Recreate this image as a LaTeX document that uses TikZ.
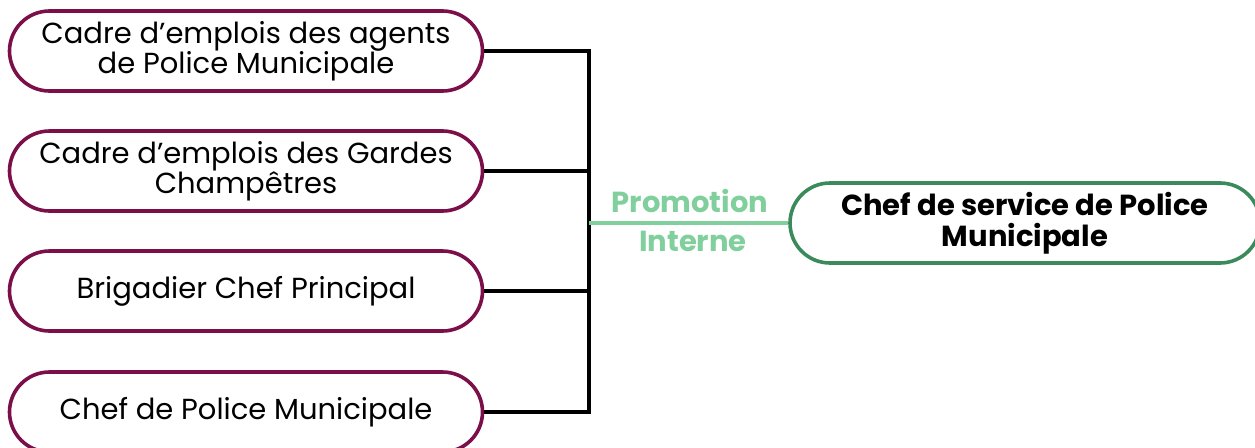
\documentclass[tikz,border=0pt]{standalone}
\usepackage{fontspec}
\setmainfont{Poppins}
\definecolor{purp}{HTML}{7A0F4A}
\definecolor{dgreen}{HTML}{3A8A5C}
\definecolor{lgreen}{HTML}{80CF9C}
\begin{document}
\begin{tikzpicture}[x=1pt,y=-1pt,
  src/.style={draw=purp,line width=3.6pt,rounded corners=40pt,minimum width=473pt,minimum height=80pt,align=center,font=\fontsize{29}{30}\selectfont,inner sep=0pt},
  dst/.style={draw=dgreen,line width=3.6pt,rounded corners=40pt,minimum width=470pt,minimum height=80pt,align=center,font=\bfseries\fontsize{29}{31}\selectfont,inner sep=0pt},
  lab/.style={text=lgreen,font=\bfseries\fontsize{29}{40}\selectfont,align=center},
  link/.style={line width=3.6pt,black}]
\useasboundingbox (0,0) rectangle (1255,447);
\node[src] (a) at (246,51) {Cadre d’emplois des agents\\de Police Municipale};
\node[src] (b) at (246,171) {Cadre d’emplois des Gardes\\Champêtres};
\node[src] (c) at (246,291) {Brigadier Chef Principal};
\node[src] (d) at (246,412) {Chef de Police Municipale};
\node[dst] (e) at (1025,223) {Chef de service de Police\\Municipale};
\coordinate (j) at (589,223);
\coordinate (ja) at (589,51);
\coordinate (jd) at (589,412);
\draw[link] (a.east) -- (ja) -- (jd) -- (d.east);
\draw[link] (b.east) -- (b.east -| j);
\draw[link] (c.east) -- (c.east -| j);
\draw[lgreen,line width=3.6pt] (j) -- (e.west);
\node[lab] (l1) at (690,201) {Promotion};
\node[lab] (l2) at (693,241) {Interne};
\end{tikzpicture}
\end{document}
